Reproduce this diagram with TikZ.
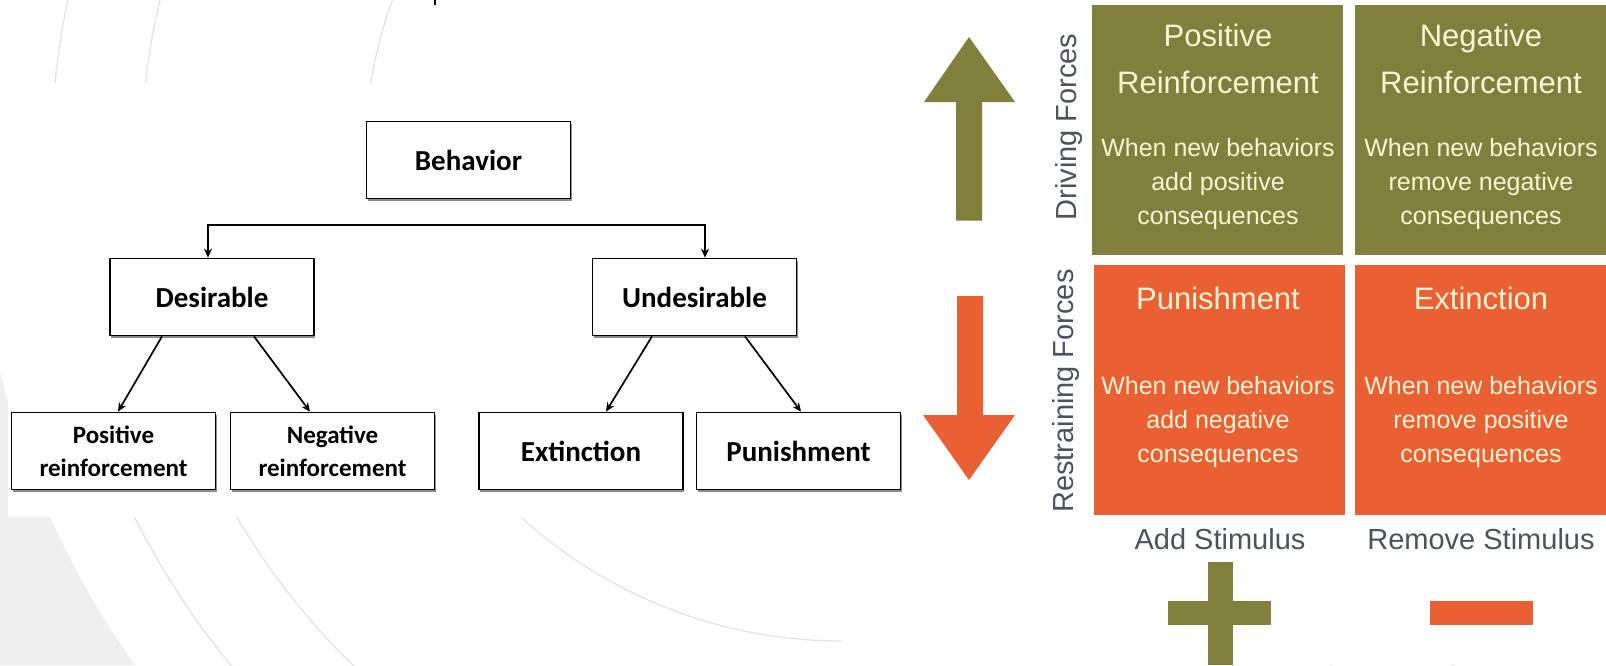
\documentclass[tikz,border=0pt]{standalone}
\usepackage{fontspec}
\setmainfont{Liberation Sans}
\newfontfamily\treefont{Carlito}
\usetikzlibrary{arrows.meta,shadows}

\definecolor{forceolive}{RGB}{128,127,60}
\definecolor{forceorange}{RGB}{234,96,50}
\definecolor{creamtext}{RGB}{250,244,214}
\definecolor{slatetext}{RGB}{74,83,96}
\definecolor{pagegray}{RGB}{239,239,239}
\definecolor{arcgray}{RGB}{228,228,228}

\tikzset{
  treebox/.style={draw=black, line width=1.7pt, fill=white, inner sep=0pt,
    minimum width=204pt, minimum height=77pt, align=center,
    drop shadow={shadow xshift=1pt, shadow yshift=-2pt, fill=black!45, opacity=1}},
  bigtext/.style={font=\treefont\bfseries\fontsize{29}{32}\selectfont},
  smalltext/.style={font=\treefont\bfseries\fontsize{25}{33}\selectfont},
  treearrow/.style={draw=black, line width=1.7pt, -{Stealth[length=9pt,width=8pt]}},
  cell/.style={rectangle, inner sep=0pt, minimum width=251pt, minimum height=250pt},
  % multi-line text nodes are anchored at the baseline of their last line
  celltitle/.style={anchor=base, align=center, text=creamtext, inner sep=0pt,
    font=\fontsize{31}{46.5}\selectfont},
  celldesc/.style={anchor=base, align=center, text=creamtext, inner sep=0pt,
    font=\fontsize{25}{34}\selectfont},
  sidelabel/.style={anchor=base, rotate=90, text=slatetext, inner sep=0pt,
    font=\fontsize{29}{34}\selectfont},
  stimlabel/.style={anchor=base, text=slatetext, inner sep=0pt,
    font=\fontsize{29}{34}\selectfont}
}

\begin{document}
\begin{tikzpicture}[x=1pt, y=-1pt]
\useasboundingbox (0,0) rectangle (1606,665);

% slide background: grey corner, thin concentric arcs, white panels
\begin{scope}
  \clip (0,0) rectangle (1606,665);
  \fill[pagegray] (0,0) rectangle (1606,665);
  \fill[white] (842,163) circle (867pt);
  \draw[arcgray, line width=1.3pt]
    (842,163) circle (478pt)
    (842,163) circle (701pt)
    (842,163) circle (791pt);
  \fill[white] (8,83) rectangle (842,517);
  \fill[white] (842,0) rectangle (1606,665);
\end{scope}
\draw[black, line width=2pt] (435,0) -- (435,5);

% ---------- behaviour tree ----------
\node[treebox, bigtext] (beh) at (468.5,160) {Behavior};
\node[treebox, bigtext] (des) at (212,297) {Desirable};
\node[treebox, bigtext] (und) at (694.5,297) {Undesirable};
\node[treebox, smalltext] (pos) at (113.5,451) {Positive\\reinforcement};
\node[treebox, smalltext] (neg) at (332.5,451) {Negative\\reinforcement};
\node[treebox, bigtext] (ext) at (581,451) {Extinction};
\node[treebox, bigtext] (pun) at (798.5,451) {Punishment};

\coordinate (barL) at (208,225);
\coordinate (barR) at (705,225);
\draw[treearrow, {Stealth[length=9pt,width=8pt]}-{Stealth[length=9pt,width=8pt]}]
  (des.north -| barL) -- (barL) -- (barR) -- (und.north -| barR);

\draw[treearrow] ([xshift=-50pt]des.south) -- ([xshift=4.5pt]pos.north);
\draw[treearrow] ([xshift=42pt]des.south) -- ([xshift=-22.5pt]neg.north);
\draw[treearrow] ([xshift=-42.5pt]und.south) -- ([xshift=25pt]ext.north);
\draw[treearrow] ([xshift=50.5pt]und.south) -- ([xshift=2.5pt]pun.north);

% ---------- force arrows ----------
\fill[forceolive] (956,220.5) -- (956,102) -- (924,102) -- (969,37)
  -- (1015,102) -- (982,102) -- (982,220.5) -- cycle;
\fill[forceorange] (957,296) -- (983,296) -- (983,415) -- (1015,415)
  -- (969,480) -- (923,415) -- (957,415) -- cycle;

\node[sidelabel] (drv) at (1076,127) {Driving Forces};
\node[sidelabel] (rst) at (1073,391) {Restraining Forces};

% ---------- consequence grid ----------
\node[cell, fill=forceolive] (pr) at (1217.5,130) {};
\node[cell, fill=forceolive] (nr) at (1480.5,130) {};
\node[cell, fill=forceorange] (pu) at (1219.5,390) {};
\node[cell, fill=forceorange] (ex) at (1480.5,389.5) {};

\node[celltitle] (prT) at (1218,93) {Positive\\Reinforcement};
\node[celltitle] (nrT) at (1481,93) {Negative\\Reinforcement};
\node[celltitle] (puT) at (1218,309) {Punishment};
\node[celltitle] (exT) at (1481,309) {Extinction};

\node[celldesc] (prD) at (1218,224) {When new behaviors\\add positive\\consequences};
\node[celldesc] (nrD) at (1481,224) {When new behaviors\\remove negative\\consequences};
\node[celldesc] (puD) at (1218,462) {When new behaviors\\add negative\\consequences};
\node[celldesc] (exD) at (1481,462) {When new behaviors\\remove positive\\consequences};

\node[stimlabel] (add) at (1220,549) {Add Stimulus};
\node[stimlabel] (rem) at (1481,549) {Remove Stimulus};

% plus and minus signs
\fill[forceolive] (1208,562) rectangle (1233,665);
\fill[forceolive] (1168,600.5) rectangle (1271,625);
\fill[forceorange] (1430,600.5) rectangle (1533,625);
\end{tikzpicture}
\end{document}
